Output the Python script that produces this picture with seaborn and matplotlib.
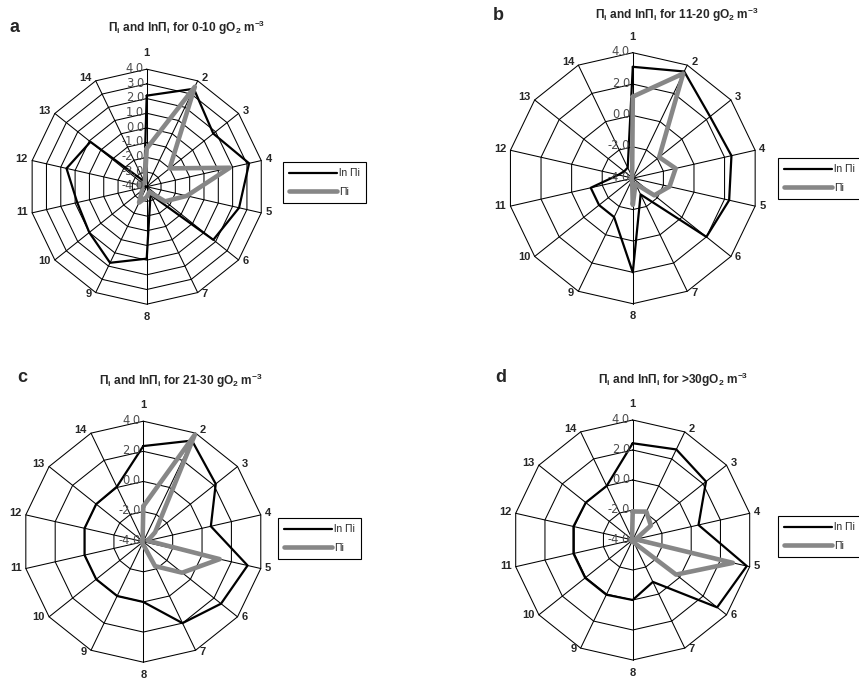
import numpy as np
import pandas as pd
import matplotlib
matplotlib.use("Agg")
import matplotlib.pyplot as plt
import seaborn as sns
from matplotlib.lines import Line2D

# ---------------- data ----------------
axis_labels = [str(i) for i in range(1, 15)]

a_ln = [2.2, 3.4, 1.8, 3.15, 2.45, 1.8, -3.4, 0.9, 1.75, 1.0, 0.85, 1.6, 0.9, -3.6]
a_pi = [-1.4, 3.55, -2.0, 1.8, -1.2, -2.4, -3.6, -3.3, -2.8, -3.6, -3.7, -3.4, -3.7, -3.7]

b_ln = [3.1, 3.55, 2.3, 2.45, 2.3, 2.0, -2.85, 2.0, -1.25, -1.25, -1.25, -3.05, -3.3, -3.25]
b_pi = [1.2, 3.4, -1.85, -1.2, -1.6, -2.25, -3.6, -2.3, -3.9, -3.9, -3.9, -3.9, -3.9, -3.9]

c_ln = [2.35, 3.45, 2.15, 0.6, 3.1, 2.6, 2.0, 0.0, 0.0, 0.0, 0.0, 0.0, 0.0, 0.05]
c_pi = [-1.65, 3.9, -3.0, -3.7, 1.2, -0.7, -2.2, -3.8, -3.9, -3.9, -3.9, -3.9, -3.9, -3.9]

d_ln = [2.45, 2.7, 2.25, 0.5, 3.8, 3.2, -0.9, 0.0, 0.05, 0.05, 0.05, 0.05, 0.0, 0.0]
d_pi = [-2.1, -1.9, -2.45, -3.8, 2.85, -0.3, -3.8, -3.9, -3.9, -3.9, -3.9, -3.9, -3.9, -3.9]

ticks_a = [-4.0, -3.0, -2.0, -1.0, 0.0, 1.0, 2.0, 3.0, 4.0]
ticks_bcd = [-4.0, -2.0, 0.0, 2.0, 4.0]

panel_letters = ["a", "b", "c", "d"]
panel_ranges = ["0-10 ", "11-20 ", "21-30 ", ">30"]
legend_labels = ["ln \u03a0i", "\u03a0i"]

# ---------------- style ----------------
sns.set_theme(style="white")
plt.rcParams["font.family"] = ["Liberation Sans", "DejaVu Sans"]
plt.rcParams["mathtext.fontset"] = "custom"
plt.rcParams["mathtext.rm"] = "Liberation Sans"
plt.rcParams["mathtext.bf"] = "Liberation Sans:bold"
plt.rcParams["mathtext.it"] = "Liberation Sans:italic"

W, H = 859, 680
fig = plt.figure(figsize=(W / 100, H / 100), dpi=100)
fig.patch.set_facecolor("white")

LN_COLOR = "black"
PI_COLOR = "#878787"

panels = [
    dict(ln=a_ln, pi=a_pi, ticks=ticks_a, cx=146.7, cy=186.7, R=117.5,
         letter_xy=(10, 28), title_xy=(187, 28), leg_xy=(283, 162)),
    dict(ln=b_ln, pi=b_pi, ticks=ticks_bcd, cx=632.8, cy=178.2, R=125.5,
         letter_xy=(493, 15), title_xy=(677, 15), leg_xy=(778, 158)),
    dict(ln=c_ln, pi=c_pi, ticks=ticks_bcd, cx=143.3, cy=541.7, R=120.5,
         letter_xy=(17, 378), title_xy=(181, 381), leg_xy=(278, 518)),
    dict(ln=d_ln, pi=d_pi, ticks=ticks_bcd, cx=632.7, cy=540.0, R=120.0,
         letter_xy=(495, 378), title_xy=(673, 380), leg_xy=(778, 516)),
]

n = len(axis_labels)
theta = np.arange(n) * 2 * np.pi / n
theta_c = np.append(theta, 2 * np.pi)

for p, letter, rng in zip(panels, panel_letters, panel_ranges):
    cx, cy, R = p["cx"], p["cy"], p["R"]
    rect = [(cx - R) / W, 1 - (cy + R) / H, 2 * R / W, 2 * R / H]
    ax = fig.add_axes(rect, projection="polar")
    ax.set_theta_zero_location("N")
    ax.set_theta_direction(-1)
    ax.patch.set_alpha(0)

    # polygon grid
    for t in p["ticks"][1:]:
        ax.plot(theta_c, [t] * (n + 1), color="black", lw=0.75, zorder=1, clip_on=False)
    for th in theta:
        ax.plot([th, th], [-4, 4], color="black", lw=0.75, zorder=1, clip_on=False)

    df = pd.DataFrame({
        "theta": theta_c,
        "ln": list(p["ln"]) + [p["ln"][0]],
        "pi": list(p["pi"]) + [p["pi"][0]],
    })
    sns.lineplot(data=df, x="theta", y="ln", ax=ax, sort=False, estimator=None,
                 color=LN_COLOR, lw=1.6, zorder=3)
    sns.lineplot(data=df, x="theta", y="pi", ax=ax, sort=False, estimator=None,
                 color=PI_COLOR, lw=3.3, zorder=4)
    for ln_ in ax.lines:
        ln_.set_clip_on(False)

    ax.set_ylim(-4, 4)
    ax.grid(False)
    ax.set_xticks([])
    ax.set_yticks([])
    ax.spines["polar"].set_visible(False)
    ax.set_xlabel("")
    ax.set_ylabel("")

    # radial tick labels along axis 1
    for t in p["ticks"]:
        ax.annotate(f"{t:.1f}", xy=(0, t), xytext=(-2.0, 0.6), textcoords="offset points",
                    ha="right", va="center", fontsize=8.3, color="#4d4d4d",
                    family="DejaVu Sans", zorder=6, annotation_clip=False)

    # category labels
    for th, lbl in zip(theta, axis_labels):
        s, c = np.sin(th), np.cos(th)
        if abs(s) < 0.05:
            if c > 0:
                ax.annotate(lbl, xy=(th, 4), xytext=(0, 8.0), textcoords="offset points",
                            ha="center", va="bottom", fontsize=8, fontweight="bold",
                            annotation_clip=False)
            else:
                ax.annotate(lbl, xy=(th, 4), xytext=(0, -5.5), textcoords="offset points",
                            ha="center", va="top", fontsize=8, fontweight="bold",
                            annotation_clip=False)
        else:
            ha = "left" if s > 0 else "right"
            dx = 3.0 if s > 0 else -3.0
            dy = (1.0 + 2.5 * c) * 0.72
            ax.annotate(lbl, xy=(th, 4), xytext=(dx, dy), textcoords="offset points",
                        ha=ha, va="center", fontsize=8, fontweight="bold",
                        annotation_clip=False)

    # panel letter and title
    lx, ly = p["letter_xy"]
    fig.text(lx / W, 1 - ly / H, letter, fontsize=13, fontweight="bold",
             ha="left", va="center")
    tx, ty = p["title_xy"]
    title = ("\u03a0$_\\mathbf{i}$ and ln\u03a0$_\\mathbf{i}$ for " + rng +
             "gO$_\\mathbf{2}$ m$^\\mathbf{-3}$")
    fig.text(tx / W, 1 - ty / H, title, fontsize=8.6, fontweight="bold",
             ha="center", va="center")

    # legend
    handles = [Line2D([], [], color=LN_COLOR, lw=1.6),
               Line2D([], [], color=PI_COLOR, lw=3.3, solid_capstyle="round")]
    lx, ly = p["leg_xy"]
    leg = fig.legend(handles, legend_labels, loc="upper left",
                     bbox_to_anchor=(lx / W, 1 - ly / H), bbox_transform=fig.transFigure,
                     fontsize=7.5, handlelength=4.6, handletextpad=0.15, borderpad=0.6,
                     labelspacing=0.8, borderaxespad=0, frameon=True, fancybox=False,
                     framealpha=1, edgecolor="black")
    leg.get_frame().set_linewidth(0.8)

fig.savefig("out.png", dpi=100, facecolor="white")
